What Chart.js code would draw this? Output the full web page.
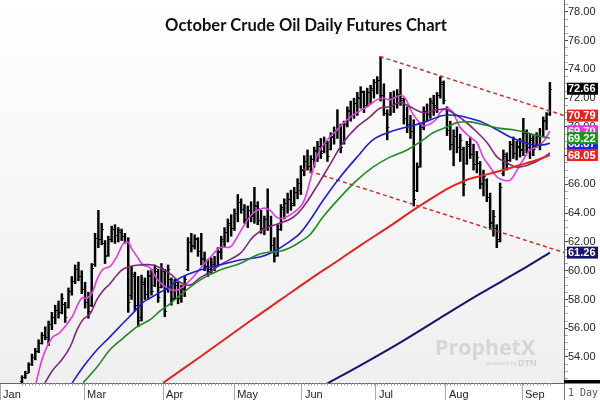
<!DOCTYPE html>
<html>
<head>
<meta charset="utf-8">
<script src="https://cdn.jsdelivr.net/npm/chart.js@4.4.0/dist/chart.umd.min.js"></script>
<style>
html,body{margin:0;padding:0;background:#fff;}
#wrap{width:600px;height:400px;position:relative;}
canvas{display:block;}
</style>
</head>
<body>
<div id="wrap"><canvas id="c" width="600" height="400" style="width:600px;height:400px"></canvas></div>
<script>
// ---------- DATA ----------
const chartTitle = "October Crude Oil Daily Futures Chart";
const monthLabels = ["Jan","Mar","Apr","May","Jun","Jul","Aug","Sep"];
const monthStarts = [-6.6, 18.7, 42.5, 63.9, 84.3, 106.6, 127.7, 150.6]; // bar-index positions of month starts

const highs = [
52.7,53.0,53.6,54.2,54.6,55.2,55.7,56.1,56.5,57.1,
57.6,57.9,58.4,57.8,58.8,59.6,60.4,60.6,60.0,59.2,
58.5,60.5,62.6,64.2,63.3,62.1,62.4,63.1,63.2,63.0,
62.9,62.6,62.3,60.3,59.9,59.6,59.7,59.5,60.0,60.1,
60.4,60.1,60.5,60.1,60.4,59.5,59.4,59.2,59.0,59.6,
62.3,62.6,62.5,62.3,62.6,61.3,60.8,60.9,61.0,61.6,
62.4,63.0,63.6,63.9,64.3,65.3,65.0,64.6,64.5,64.8,
65.8,64.8,64.2,63.8,65.7,63.8,62.3,63.2,64.6,65.0,
65.4,65.6,65.8,66.4,67.3,68.0,68.4,68.0,68.6,69.0,
69.2,69.3,69.0,69.6,70.0,71.2,70.2,70.4,71.4,71.8,
72.0,72.4,72.8,72.5,72.7,72.9,73.3,73.5,74.9,73.0,
71.2,72.4,72.5,72.6,74.0,72.0,71.4,70.8,70.5,67.5,
70.2,71.4,71.6,72.0,72.2,72.4,73.5,73.2,71.4,70.4,
69.8,70.0,69.5,68.6,69.0,69.3,68.8,68.3,67.6,67.0,
66.4,65.4,64.2,63.2,66.1,68.4,68.2,69.0,69.3,69.0,
69.2,70.6,69.8,69.5,69.4,69.6,69.9,70.7,71.0,73.1];
const lows = [
52.2,52.5,52.9,53.4,53.8,54.3,54.9,55.2,54.8,55.9,
56.3,56.7,57.0,56.4,57.4,58.3,59.1,59.3,58.4,57.4,
56.7,57.5,60.3,61.6,61.8,60.5,61.0,62.0,61.9,62.0,
62.1,61.9,57.1,58.0,57.2,56.1,56.5,58.0,58.0,58.3,
58.9,57.8,58.8,56.8,58.5,57.6,58.0,57.7,57.8,58.2,
60.0,61.3,61.5,61.0,60.4,60.0,59.6,59.8,60.0,60.3,
60.8,61.6,62.0,62.4,62.8,63.4,64.0,63.3,63.0,63.4,
63.3,63.2,62.6,62.5,62.8,61.4,60.6,61.0,62.8,63.6,
64.0,64.2,64.5,65.0,65.3,66.6,67.0,66.8,67.2,67.6,
67.8,68.2,67.6,68.4,68.8,69.2,68.2,68.8,70.0,70.4,
70.6,70.8,71.3,71.0,71.4,71.6,72.0,72.3,71.8,70.8,
69.1,70.8,71.0,71.3,71.5,70.2,69.6,69.2,64.5,65.5,
67.2,69.8,70.4,70.6,70.8,71.0,72.0,71.6,69.4,68.4,
67.3,68.2,67.6,65.2,67.4,67.8,67.0,66.8,65.7,65.2,
64.8,62.9,62.4,61.6,62.0,66.6,67.0,67.6,67.8,67.7,
67.9,68.0,68.2,67.8,68.0,68.6,68.4,69.3,69.8,70.8];
const opens = [
52.3,52.6,52.9,53.5,54.0,54.4,55.0,55.5,55.4,56.3,
56.8,57.3,57.1,57.7,57.5,58.6,59.3,60.1,59.6,58.7,
57.8,57.6,60.5,62.3,62.2,61.9,61.1,62.2,62.9,62.5,
62.7,62.4,62.1,58.3,59.6,57.6,56.8,59.1,58.4,59.6,
59.0,60.0,58.9,60.0,58.7,59.4,58.1,59.0,58.1,58.7,
60.1,62.0,61.7,62.2,61.4,60.9,60.3,60.0,60.5,60.4,
61.3,62.1,62.7,63.2,63.0,64.0,64.8,64.3,63.5,64.2,
63.9,64.5,63.5,63.0,63.6,63.1,61.8,61.1,62.9,64.3,
64.7,65.0,64.7,65.5,65.6,67.0,67.6,67.3,67.8,68.3,
68.7,68.3,68.9,68.5,69.3,69.8,70.0,68.9,70.2,71.1,
70.8,71.7,72.0,72.4,71.5,72.4,72.6,73.1,73.3,72.2,
71.0,70.9,72.0,71.6,72.3,71.9,70.6,70.2,69.7,65.6,
67.3,70.0,71.1,70.9,71.7,71.5,72.2,73.0,71.3,69.8,
68.8,69.4,68.6,68.5,67.5,68.7,68.1,67.4,67.5,66.1,
66.3,65.1,63.4,63.0,62.2,66.8,68.0,67.7,68.8,68.2,
68.6,68.5,69.6,68.6,69.1,68.7,69.4,69.4,70.4,70.9];
const closes = [
52.6,52.9,53.5,54.0,54.4,55.0,55.5,55.4,56.3,56.8,
57.3,57.1,58.1,56.8,58.6,59.3,60.1,59.6,58.7,57.8,
57.2,60.2,62.3,62.2,62.9,61.0,62.2,62.9,62.5,62.8,
62.4,62.1,57.8,59.8,57.6,56.6,59.2,58.4,59.7,58.6,
60.2,58.2,60.2,57.2,60.1,58.0,59.2,58.1,58.8,59.4,
62.0,61.8,62.3,61.4,60.8,60.3,60.1,60.6,60.4,61.4,
62.2,62.7,63.3,63.0,64.0,64.8,64.3,63.6,64.2,63.8,
64.6,63.5,63.0,63.6,63.2,61.8,61.0,62.9,64.4,64.7,
65.0,64.6,65.5,66.1,67.1,67.6,67.3,67.8,68.4,68.7,
68.2,69.0,68.0,69.4,69.8,70.0,68.6,70.2,71.2,70.8,
71.7,72.1,72.5,71.4,72.4,72.7,73.1,73.3,72.2,71.0,
70.0,72.1,71.6,72.3,72.0,70.6,70.2,69.7,65.0,67.2,
70.0,71.1,70.9,71.8,71.4,72.2,73.1,71.9,69.8,68.8,
69.4,68.6,69.1,66.0,68.8,68.1,67.4,67.9,66.0,66.6,
65.1,63.3,63.8,62.1,65.8,68.1,67.4,68.8,68.2,68.7,
68.4,69.7,68.6,69.2,68.5,69.4,68.9,70.5,70.9,72.66];

// moving averages: [bar index, price]
const maMagenta = [[4.2,52.2],[6.0,53.8],[7.5,54.7],[9.3,55.4],[11.4,55.7],[15.1,56.8],[16.9,57.7],[18.1,58.1],[19.6,58.1],[21.1,58.45],[22.6,59.4],[24.4,60.1],[26.5,60.3],[28.6,61.0],[30.4,61.85],[31.9,62.0],[33.1,61.5],[34.6,61.0],[36.4,60.4],[38.6,60.2],[40.7,59.4],[42.5,59.0],[44.6,58.7],[46.7,58.65],[48.5,58.9],[51.5,59.55],[54.2,60.3],[56.6,60.9],[59.6,61.6],[62.7,61.65],[64.2,62.1],[66.6,63.05],[69.6,64.0],[72.6,64.35],[74.7,64.2],[76.8,63.7],[78.6,63.65],[81.6,64.0],[84.6,64.7],[86.7,66.2],[88.9,68.0],[91.9,69.1],[94.9,69.8],[97.9,70.5],[100.9,71.0],[103.9,71.4],[106.9,71.9],[108.7,72.0],[110.8,71.9],[113.9,72.2],[115.4,72.0],[117.5,71.0],[119.0,70.5],[120.8,70.1],[122.9,70.2],[125.0,70.6],[125.9,71.0],[128.0,71.3],[129.8,71.0],[131.9,70.0],[134.9,69.3],[137.0,68.9],[138.9,67.9],[141.0,67.2],[143.1,66.5],[144.9,66.3],[147.0,66.3],[149.1,67.0],[150.9,67.7],[153.0,68.4],[155.1,68.6],[156.9,68.95],[159.0,69.70]];
const maPurple = [[6.9,52.2],[9.3,53.1],[12.0,53.8],[14.5,54.7],[16.6,55.9],[18.4,56.6],[20.5,57.0],[22.6,58.0],[24.4,58.6],[26.5,59.1],[28.6,59.7],[30.4,60.1],[32.5,60.3],[35.5,60.4],[39.5,60.4],[41.6,60.2],[44.6,59.8],[47.6,59.2],[50.6,59.0],[53.6,59.5],[56.6,59.9],[59.6,60.4],[65.7,61.2],[69.6,62.35],[73.8,63.0],[77.7,63.3],[81.6,63.7],[84.6,64.4],[88.9,65.9],[92.8,67.4],[96.7,68.9],[100.9,70.0],[104.8,70.7],[107.8,71.3],[110.8,71.4],[113.9,71.7],[116.9,71.4],[120.8,71.0],[125.0,71.2],[128.0,71.2],[132.8,70.5],[137.0,69.65],[140.1,68.9],[143.1,67.9],[146.1,67.5],[149.1,67.2],[153.0,67.4],[156.9,67.85],[159.0,68.2]];
const maBlue = [[15.1,52.2],[18.4,53.3],[22.6,54.5],[26.5,55.4],[30.4,56.35],[33.4,57.05],[36.4,57.8],[38.6,58.1],[41.6,58.5],[44.6,58.9],[47.6,59.5],[53.6,60.05],[59.6,60.4],[65.7,60.75],[71.7,60.95],[75.6,61.3],[79.8,61.9],[83.7,62.6],[86.7,63.5],[90.7,64.9],[95.8,66.5],[100.9,67.9],[105.7,69.1],[110.8,69.65],[116.0,70.0],[120.8,70.3],[126.8,70.8],[131.0,70.8],[134.9,70.6],[138.9,70.3],[143.1,69.8],[147.0,69.3],[150.9,68.95],[153.9,68.75],[156.9,68.75],[159.0,68.87]];
const maGreen = [[18.4,52.2],[22.6,53.3],[26.5,54.5],[30.4,55.3],[34.6,56.1],[38.6,56.6],[41.6,57.2],[44.6,57.7],[47.6,58.3],[53.6,59.35],[59.6,60.05],[65.7,60.5],[70.8,61.1],[74.7,61.3],[77.7,61.35],[80.7,61.6],[83.7,62.0],[86.7,62.5],[90.7,63.75],[95.8,65.1],[100.9,66.3],[105.7,67.2],[110.8,67.9],[116.0,68.4],[120.8,69.1],[123.8,69.6],[128.0,70.0],[131.0,70.3],[134.9,70.35],[140.1,70.1],[144.0,69.9],[147.9,69.8],[152.1,69.6],[156.0,69.35],[159.0,69.22]];
const maRed = [[42.5,52.2],[53.6,54.0],[68.7,56.5],[77.7,57.95],[86.7,59.4],[95.8,60.8],[101.8,61.75],[110.8,63.1],[118.4,64.3],[125.9,65.4],[129.8,65.9],[134.9,66.4],[140.1,66.7],[144.9,67.0],[150.0,67.35],[155.1,67.7],[159.0,68.05]];
const maNavy = [[91.9,52.15],[101.8,53.4],[113.9,55.0],[125.9,56.7],[138.0,58.4],[150.0,60.0],[159.0,61.26]];
const trendUpper = [[107.8,74.9],[163.3,70.79]];
const trendLower = [[84.6,67.07],[163.3,61.26]];

// last-value tags on the price axis
const tagValues = [69.70, 68.87, 69.22, 68.05, 70.79, 72.66, 61.26];
const tagColors = ['#e832e6', '#2424e0', '#18961c', '#ea2222', '#e82222', '#000000', '#14146e'];

const yMin = 52.19, yMax = 78.83;
const xMin = -6.63, xMax = 163.25;

// ---------- PLUGINS ----------
const bgPlugin = {
  id: 'bg',
  beforeDraw(chart) {
    const {ctx, chartArea: a} = chart;
    ctx.save();
    ctx.fillStyle = '#ffffff';
    ctx.fillRect(0, 0, chart.width, chart.height);
    const g = ctx.createLinearGradient(0, a.top, 0, a.bottom);
    g.addColorStop(0, '#ffffff');
    g.addColorStop(1, '#efefef');
    ctx.fillStyle = g;
    ctx.fillRect(a.left, a.top, a.width, a.height);
    // watermark
    ctx.fillStyle = '#d6d6d6';
    ctx.textBaseline = 'alphabetic';
    ctx.textAlign = 'left';
    let fs = 20;
    ctx.font = 'bold ' + fs + 'px "Open Sans"';
    const w = ctx.measureText('ProphetX').width;
    fs = fs * 100 / w;
    ctx.font = 'bold ' + fs.toFixed(1) + 'px "Open Sans"';
    ctx.fillText('ProphetX', 435, 355);
    ctx.fillStyle = '#cfcfcf';
    ctx.font = '6px "Liberation Sans"';
    ctx.fillText('powered by', 486, 365);
    ctx.font = 'bold 9px "Liberation Sans"';
    ctx.fillText('DTN', 518, 366);
    ctx.restore();
  }
};

const ohlcTicks = {
  id: 'ohlcTicks',
  afterDatasetDraw(chart, args) {
    if (args.index !== 0) return;
    const {ctx, chartArea: a, scales: {x, y}} = chart;
    ctx.save();
    ctx.beginPath();
    ctx.rect(a.left, a.top, a.width, a.height);
    ctx.clip();
    ctx.strokeStyle = '#000';
    ctx.lineWidth = 1.2;
    ctx.beginPath();
    for (let i = 0; i < closes.length; i++) {
      const px = x.getPixelForValue(i);
      const po = Math.round(y.getPixelForValue(opens[i])) + 0.5;
      const pc = Math.round(y.getPixelForValue(closes[i])) + 0.5;
      ctx.moveTo(px - 2.2, po); ctx.lineTo(px, po);
      ctx.moveTo(px, pc); ctx.lineTo(px + 2.2, pc);
    }
    ctx.stroke();
    ctx.restore();
  }
};

const overlay = {
  id: 'overlay',
  afterDraw(chart) {
    const {ctx, chartArea: a, scales: {x, y}} = chart;
    ctx.save();
    // title
    ctx.fillStyle = '#111';
    ctx.textAlign = 'center';
    ctx.textBaseline = 'alphabetic';
    let fs = 16;
    ctx.font = 'bold ' + fs + 'px Lato';
    const tw = ctx.measureText(chartTitle).width;
    fs = fs * 282 / tw;
    ctx.font = 'bold ' + fs.toFixed(2) + 'px Lato';
    ctx.fillText(chartTitle, 306, 31);
    // daily ticks on time axis
    ctx.strokeStyle = '#9a9a9a';
    ctx.lineWidth = 1;
    ctx.beginPath();
    for (let i = 0; i < closes.length; i++) {
      const px = Math.round(x.getPixelForValue(i)) + 0.5;
      ctx.moveTo(px, a.bottom); ctx.lineTo(px, a.bottom + 2.5);
    }
    ctx.stroke();
    // divider below price axis
    ctx.strokeStyle = '#777';
    ctx.beginPath();
    ctx.moveTo(a.right + 0.5, a.bottom); ctx.lineTo(a.right + 0.5, chart.height);
    ctx.stroke();
    ctx.fillStyle = '#000';
    ctx.fillRect(a.right, a.bottom - 3, chart.width - a.right, 3.5);
    ctx.fillStyle = '#555';
    ctx.textAlign = 'left';
    ctx.textBaseline = 'middle';
    ctx.font = '10px "DejaVu Sans Mono"';
    ctx.fillText('1 Day', a.right + 4, 393);
    // last-value tags
    ctx.font = 'bold 11px "Liberation Sans"';
    ctx.textAlign = 'left';
    ctx.textBaseline = 'middle';
    for (let k = 0; k < tagValues.length; k++) {
      const py = y.getPixelForValue(tagValues[k]);
      ctx.fillStyle = tagColors[k];
      ctx.fillRect(a.right + 3, py - 6, 31, 12);
      ctx.fillStyle = '#fff';
      ctx.fillText(tagValues[k].toFixed(2), a.right + 4, py + 0.5);
    }
    ctx.restore();
  }
};

// ---------- CHART ----------
const pts = arr => arr.map(p => ({x: p[0], y: p[1]}));
const lineDs = (data, color, width, dash) => ({
  type: 'line', data: pts(data), borderColor: color, borderWidth: width,
  pointRadius: 0, fill: false, tension: dash ? 0 : 0.35, borderDash: dash || [],
  order: 1, clip: 0
});

const isMajor = v => Math.abs(v / 2 - Math.round(v / 2)) < 1e-6;

new Chart(document.getElementById('c'), {
  type: 'bar',
  data: {
    datasets: [
      {
        type: 'bar',
        data: highs.map((h, i) => ({x: i, y: [lows[i], h]})),
        backgroundColor: '#000', borderWidth: 0, barThickness: 1.8,
        grouped: false, order: 10
      },
      lineDs(maNavy, '#14146e', 2),
      lineDs(maRed, '#e42420', 2),
      lineDs(maGreen, '#1e8c22', 1.6),
      lineDs(maBlue, '#1e1ed2', 1.6),
      lineDs(maPurple, '#7e2a7a', 1.6),
      lineDs(maMagenta, '#e03ee0', 1.6),
      lineDs(trendUpper, '#c9342c', 1.5, [4, 3]),
      lineDs(trendLower, '#c9342c', 1.5, [4, 3])
    ]
  },
  options: {
    responsive: false,
    animation: false,
    events: [],
    layout: {padding: 0},
    plugins: {legend: {display: false}, tooltip: {enabled: false}, title: {display: false}},
    scales: {
      x: {
        type: 'linear', position: 'bottom', min: xMin, max: xMax, offset: false,
        grid: {drawOnChartArea: false, drawTicks: true, tickLength: 17, color: '#a8a8a8', offset: false},
        border: {display: true, color: '#666'},
        afterBuildTicks: s => { s.ticks = monthStarts.map(v => ({value: v})); },
        afterFit: s => { s.height = 17; s.paddingLeft = 0; s.paddingRight = 0; },
        ticks: {
          autoSkip: false, maxRotation: 0, minRotation: 0, align: 'start', labelOffset: 3,
          padding: -12, color: '#222', font: {family: 'Liberation Sans', size: 11},
          callback: (v, i) => monthLabels[i]
        }
      },
      y: {
        type: 'linear', position: 'right', min: yMin, max: yMax,
        grid: {
          drawOnChartArea: false, tickLength: 4,
          tickColor: c => isMajor(c.tick.value) ? '#444' : '#aaa'
        },
        border: {display: true, color: '#666'},
        afterFit: s => { s.width = 36; s.paddingTop = 0; s.paddingBottom = 0; },
        ticks: {
          stepSize: 0.5, autoSkip: false, includeBounds: false, padding: 0,
          color: '#222', font: {family: 'Liberation Sans', size: 11},
          callback: v => isMajor(v) ? v.toFixed(2) : ''
        }
      }
    }
  },
  plugins: [bgPlugin, ohlcTicks, overlay]
});
</script>
</body>
</html>
